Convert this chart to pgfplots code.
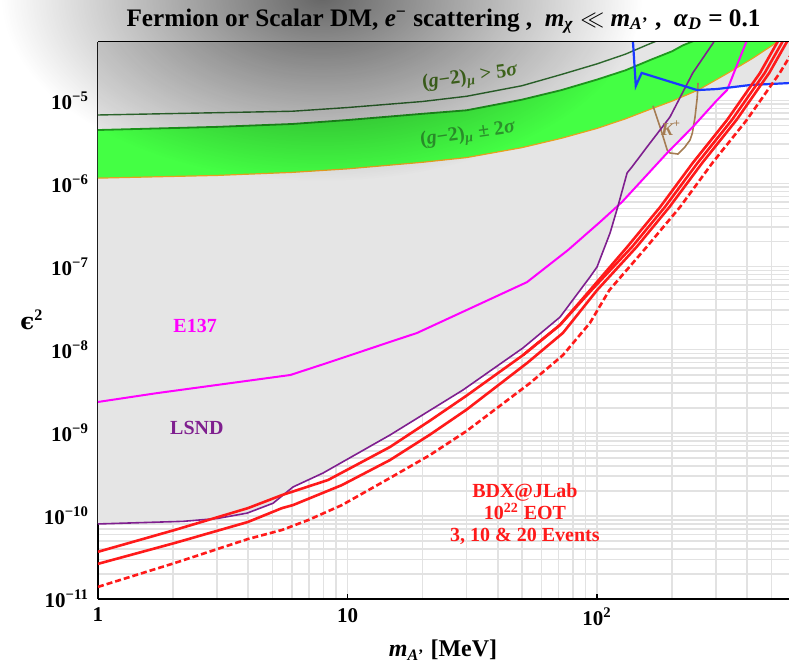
\documentclass[border=0pt]{standalone}
\usepackage{pgfplots}
\pgfplotsset{compat=1.18}
\usepackage{fontspec}
\setmainfont{Liberation Serif}
\newfontfamily\dvs{DejaVu Serif}
\usetikzlibrary{fadings}
\definecolor{gfill}{HTML}{E5E5E5}
\definecolor{band}{HTML}{44FF44}
\definecolor{bandedge}{HTML}{1E9A1E}
\definecolor{orangeedge}{HTML}{E8A020}
\definecolor{fivesig}{HTML}{2E6B2E}
\definecolor{lsnd}{HTML}{7F1F8F}
\definecolor{kbrown}{HTML}{A57C52}
\definecolor{bdx}{HTML}{FF1A1A}
\definecolor{bblue}{HTML}{1A3AFF}
\definecolor{mag}{RGB}{255,0,255}
\definecolor{lab5}{HTML}{4C7A22}
\definecolor{lab2}{HTML}{2E9A2E}
\definecolor{gridc}{HTML}{E2E2E2}
\tikzfading[name=softblob, inner color=transparent!0, outer color=transparent!100]
\begin{document}
\begin{tikzpicture}
\begin{axis}[
  name=ax, at={(0,0)}, anchor=south west,
  scale only axis, width=345.5pt, height=278.5pt,
  xmode=log, ymode=log,
  xmin=1, xmax=588, ymin=1e-11, ymax=5.04e-5,
  xtick={1,10,100}, xticklabels={\textbf{1},\textbf{10},\textbf{10\textsuperscript{2}}},
  ytick={1e-11,1e-10,1e-9,1e-8,1e-7,1e-6,1e-5},
  yticklabels={\textbf{10\textsuperscript{−11}},\textbf{10\textsuperscript{−10}},\textbf{10\textsuperscript{−9}},\textbf{10\textsuperscript{−8}},\textbf{10\textsuperscript{−7}},\textbf{10\textsuperscript{−6}},\textbf{10\textsuperscript{−5}}},
  minor xtick={2,3,4,5,6,7,8,9,20,30,40,50,60,70,80,90,200,300,400,500},
  minor ytick={2e-11,3e-11,4e-11,5e-11,6e-11,7e-11,8e-11,9e-11,2e-10,3e-10,4e-10,5e-10,6e-10,7e-10,8e-10,9e-10,2e-9,3e-9,4e-9,5e-9,6e-9,7e-9,8e-9,9e-9,2e-8,3e-8,4e-8,5e-8,6e-8,7e-8,8e-8,9e-8,2e-7,3e-7,4e-7,5e-7,6e-7,7e-7,8e-7,9e-7,2e-6,3e-6,4e-6,5e-6,6e-6,7e-6,8e-6,9e-6,2e-5,3e-5,4e-5},
  grid=both,
  major grid style={gridc, line width=0.8pt},
  minor grid style={gridc, line width=0.8pt},
  tick align=inside, major tick length=2.5pt, minor tick length=0pt,
  xtick pos=bottom, ytick pos=left,
  tick style={black, line width=0.6pt},
  axis x line*=box, axis y line*=left,
  y axis line style={-}, x axis line style={-},
  axis line style={black, line width=0.8pt},
  tick label style={font=\fontsize{10.5}{12}\selectfont},
  xticklabel style={yshift=-1pt},
  yticklabel style={xshift=-1pt},
  clip=true,
]
% excluded (gray) region
\addplot[fill=gfill, draw=none] coordinates {
 (1,8.0e-11) (2.19,8.6e-11) (3.0,9.3e-11) (3.96,1.08e-10) (5.03,1.42e-10) (6.05,2.23e-10) (7.98,3.28e-10)
 (14.8,9.4e-10) (29,3.27e-9) (50.5,1.05e-8) (71.1,2.47e-8) (93.7,7.5e-8) (100,9.9e-8)
 (112.8,2.54e-7) (122.5,5.6e-7) (126,6.0e-7) (158.6,1.27e-6) (191,2.33e-6) (242,4.79e-6)
 (303,1.01e-5) (336,1.42e-5) (410,1.53e-5) (600,1.62e-5) (600,1e-3) (1,1e-3)};
% g-2 band
\addplot[fill=band, draw=none] coordinates {
 (1,4.4e-6) (3,4.8e-6) (6,5.2e-6) (10,5.8e-6) (20,6.9e-6) (30,7.6e-6) (50,1.02e-5) (72,1.33e-5)
 (100,1.78e-5) (130,2.3e-5) (165,3.1e-5) (200,3.9e-5) (221,4.6e-5) (260,5.6e-5) (300,7e-5)
 (600,7e-5)
 (560,5.7e-5) (510,4.7e-5) (420,3.2e-5) (332,2.1e-5) (254,1.33e-5) (200,9.8e-6) (165,7.9e-6)
 (130,6.0e-6) (100,4.6e-6) (72,3.5e-6) (50,2.7e-6) (30,2.05e-6) (20,1.8e-6) (10,1.5e-6)
 (6,1.36e-6) (3,1.25e-6) (1,1.16e-6)};
\addplot[bandedge, line width=0.9pt] coordinates {
 (1,4.4e-6) (3,4.8e-6) (6,5.2e-6) (10,5.8e-6) (20,6.9e-6) (30,7.6e-6) (50,1.02e-5) (72,1.33e-5)
 (100,1.78e-5) (130,2.3e-5) (165,3.1e-5) (200,3.9e-5) (221,4.6e-5) (260,5.6e-5)};
\addplot[orangeedge, line width=0.6pt] coordinates {
 (1,1.16e-6) (3,1.25e-6) (6,1.36e-6) (10,1.5e-6) (20,1.8e-6) (30,2.05e-6) (50,2.7e-6) (72,3.5e-6)
 (100,4.6e-6) (130,6.0e-6) (165,7.9e-6) (200,9.8e-6) (254,1.33e-5) (332,2.1e-5) (420,3.2e-5)
 (510,4.7e-5) (560,5.7e-5)};
% g-2 > 5 sigma
\addplot[fivesig, line width=0.7pt] coordinates {
 (1,6.67e-6) (6,7.4e-6) (10,8.2e-6) (20,9.7e-6) (30,1.12e-5) (50,1.5e-5) (72,2.05e-5)
 (100,2.75e-5) (130,3.6e-5) (160,4.7e-5) (190,5.8e-5)};
% K+
\addplot[kbrown, line width=0.8pt] coordinates {
 (167.6,8.6e-6) (178.9,4.79e-6) (191.1,2.53e-6) (196,2.33e-6) (211,2.26e-6) (225,2.75e-6)
 (236,3.34e-6) (241,4.05e-6) (247,6.3e-6) (252,1.07e-5) (254,1.62e-5)};
% E137
\addplot[mag, line width=1pt] coordinates {
 (1,2.35e-9) (1.72,3.0e-9) (5.9,4.96e-9) (8.5,7.1e-9) (14.8,1.24e-8) (19,1.59e-8) (52.4,6.5e-8)
 (76.5,1.58e-7) (102.8,3.44e-7) (126,6.0e-7) (158.6,1.27e-6) (191,2.33e-6) (242,4.79e-6)
 (303,1.01e-5) (332,1.33e-5) (399,5.3e-5) (430,8e-5)};
% LSND
\addplot[lsnd, line width=0.8pt] coordinates {
 (1,8.0e-11) (2.19,8.6e-11) (3.0,9.3e-11) (3.96,1.08e-10) (5.03,1.42e-10) (6.05,2.23e-10) (7.98,3.28e-10)
 (14.8,9.4e-10) (29,3.27e-9) (50.5,1.05e-8) (71.1,2.47e-8) (93.7,7.5e-8) (100,9.9e-8)
 (112.8,2.54e-7) (121,5.2e-7) (132,1.34e-6) (138,1.58e-6) (158.6,2.75e-6) (196,6.3e-6)
 (242,2.14e-5) (292,4.9e-5) (320,8e-5)};
% BaBar (blue)
\addplot[bblue, line width=1.1pt] coordinates {
 (138,8e-5) (143,1.49e-5) (151,2.14e-5) (252,1.33e-5) (303,1.37e-5) (410,1.53e-5) (600,1.62e-5)};
% BDX curves
\addplot[bdx, line width=1.3pt] coordinates {
 (1,3.7e-11) (2.03,6.77e-11) (3.99,1.24e-10) (5.46,1.78e-10) (8.35,2.70e-10) (14.8,6.75e-10)
 (21.4,1.4e-9) (30,2.8e-9) (50.5,8.6e-9) (71,1.98e-8) (93.7,5.2e-8) (132,1.72e-7) (179,5.2e-7)
 (242,1.77e-6) (332,5.8e-6) (450,2.14e-5) (526,4.9e-5) (560,7e-5)};
\addplot[bdx, line width=1.3pt] coordinates {
 (50.5,8.6e-9) (71,1.98e-8) (95,5.2e-8) (138,1.72e-7) (187,5.2e-7)
 (253,1.77e-6) (347,5.8e-6) (470,2.14e-5) (550,4.9e-5) (585,7e-5)};
\addplot[bdx, line width=1.3pt] coordinates {
 (1,2.65e-11) (2.03,4.72e-11) (3.99,8.45e-11) (5.46,1.24e-10) (6.05,1.35e-10) (9.5,2.35e-10)
 (14.8,4.7e-10) (21.4,9.5e-10) (30,1.9e-9) (52.4,6.9e-9) (73,1.59e-8) (100,5.2e-8) (144,1.72e-7)
 (195,5.2e-7) (264,1.77e-6) (362,5.8e-6) (490,2.14e-5) (573,4.9e-5) (600,6e-5)};
\addplot[bdx, line width=1.3pt, dash pattern=on 3pt off 1.5pt] coordinates {
 (1,1.4e-11) (2.03,2.71e-11) (3.99,5.27e-11) (5.46,6.77e-11) (6.95,8.9e-11) (9.5,1.35e-10)
 (14.8,2.86e-10) (21.4,5.4e-10) (30,1.05e-9) (53.9,3.97e-9) (73,8.6e-9) (93.7,2.1e-8)
 (112,5.2e-8) (158,1.72e-7) (215,5.2e-7) (290,1.77e-6) (398,5.8e-6) (540,2.14e-5) (600,3.6e-5)};
% labels
\node[font=\fontsize{10}{12}\selectfont\bfseries, text=lab5, rotate=8] at (axis cs:31,1.86e-5) {(\textit{g}−2)\textsubscript{\textit{μ}} > 5\textit{σ}};
\node[font=\fontsize{10}{12}\selectfont\bfseries, text=lab2, rotate=8] at (axis cs:30.4,3.84e-6) {(\textit{g}−2)\textsubscript{\textit{μ}} ± 2\textit{σ}};
\node[font=\fontsize{10}{12}\selectfont\bfseries, text=mag] at (axis cs:2.45,1.93e-8) {E137};
\node[font=\fontsize{10}{12}\selectfont\bfseries, text=lsnd] at (axis cs:2.49,1.14e-9) {LSND};
\node[font=\fontsize{9}{10}\selectfont\bfseries\itshape, text=kbrown] at (axis cs:198,4.6e-6) {K\textsuperscript{+}};
\node[font=\fontsize{10}{11}\selectfont\bfseries, text=bdx, align=center] at (axis cs:51.4,1.05e-10) {BDX@JLab\\10\textsuperscript{22} EOT\\3, 10 \& 20 Events};
\end{axis}
% title and axis labels
\node[font=\fontsize{12.6}{14}\selectfont\bfseries] at (172.75pt,289pt) {Fermion or Scalar DM, \textit{e}\textsuperscript{−} scattering ,\ \ \textit{m}\textsubscript{\textit{χ}} $\ll$ \textit{m}\textsubscript{\textit{A}'} ,\ \ \textit{α}\textsubscript{\textit{D}} = 0.1};
\node[font=\fontsize{12}{14}\selectfont\bfseries] at (172.5pt,-25.5pt) {\textit{m}\textsubscript{\textit{A}'} [MeV]};
\node[font=\fontsize{11.5}{13}\selectfont\bfseries] at (-33pt,139.5pt) {{\dvs ϵ}\textsuperscript{2}};
% soft shadow (scan artifact)
\fill[black, path fading=softblob, fill opacity=0.6] (112pt,301pt) ellipse (160pt and 92pt);
\pgfresetboundingbox
\path[use as bounding box] (-49pt,-33pt) rectangle (345.5pt,299.5pt);
\end{tikzpicture}
\end{document}
